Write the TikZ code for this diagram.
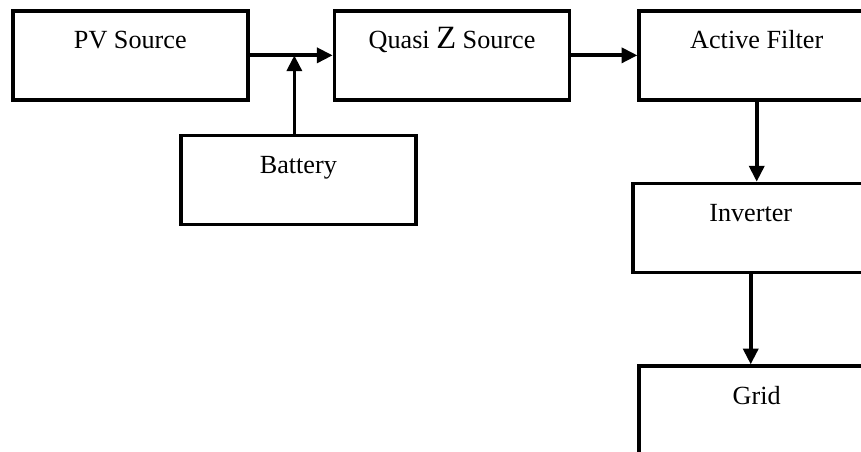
\documentclass[tikz,border=0pt]{standalone}
\usepackage{fontspec}
\setmainfont{Liberation Serif}
\usetikzlibrary{arrows.meta,positioning}

\begin{document}
\begin{tikzpicture}[
            >={Triangle[length=9pt,width=8.5pt]},
            blk/.style={draw, line width=2.1pt, minimum width=4.7cm, inner sep=0pt,
                        text height=0.76cm, text depth=1.02cm, align=center,
                        font=\fontsize{14.9}{18}\selectfont},
            flow/.style={->, line width=2.1pt}
          ]
          \useasboundingbox (0,0) rectangle (17.22,-9.04);
          \node[blk, anchor=north west]                  at (0.22,-0.18) (pv)   {PV Source};
          \node[blk, right=1.66cm of pv]                                  (qzs)  {Quasi {\fontsize{18.5}{18}\selectfont Z} Source};
          \node[blk, right=1.32cm of qzs]                                 (af)   {Active Filter};
          \node[blk, below=0.64cm of pv, xshift=3.36cm]                   (bat)  {Battery};
          \node[blk, below=1.6cm of af, xshift=-0.12cm]                   (inv)  {Inverter};
          \node[blk, below=1.8cm of inv, xshift=0.12cm]                   (grid) {Grid};
          \coordinate (jn) at ([xshift=-0.08cm]bat.north |- pv.east);
          \draw[flow] (pv) -- (qzs);
          \draw[flow] (jn |- bat.north) -- (jn);
          \draw[flow] (qzs) -- (af);
          \draw[flow] (af.south) -- (af.south |- inv.north);
          \draw[flow] (inv.south) -- (inv.south |- grid.north);
        \end{tikzpicture}
\end{document}
